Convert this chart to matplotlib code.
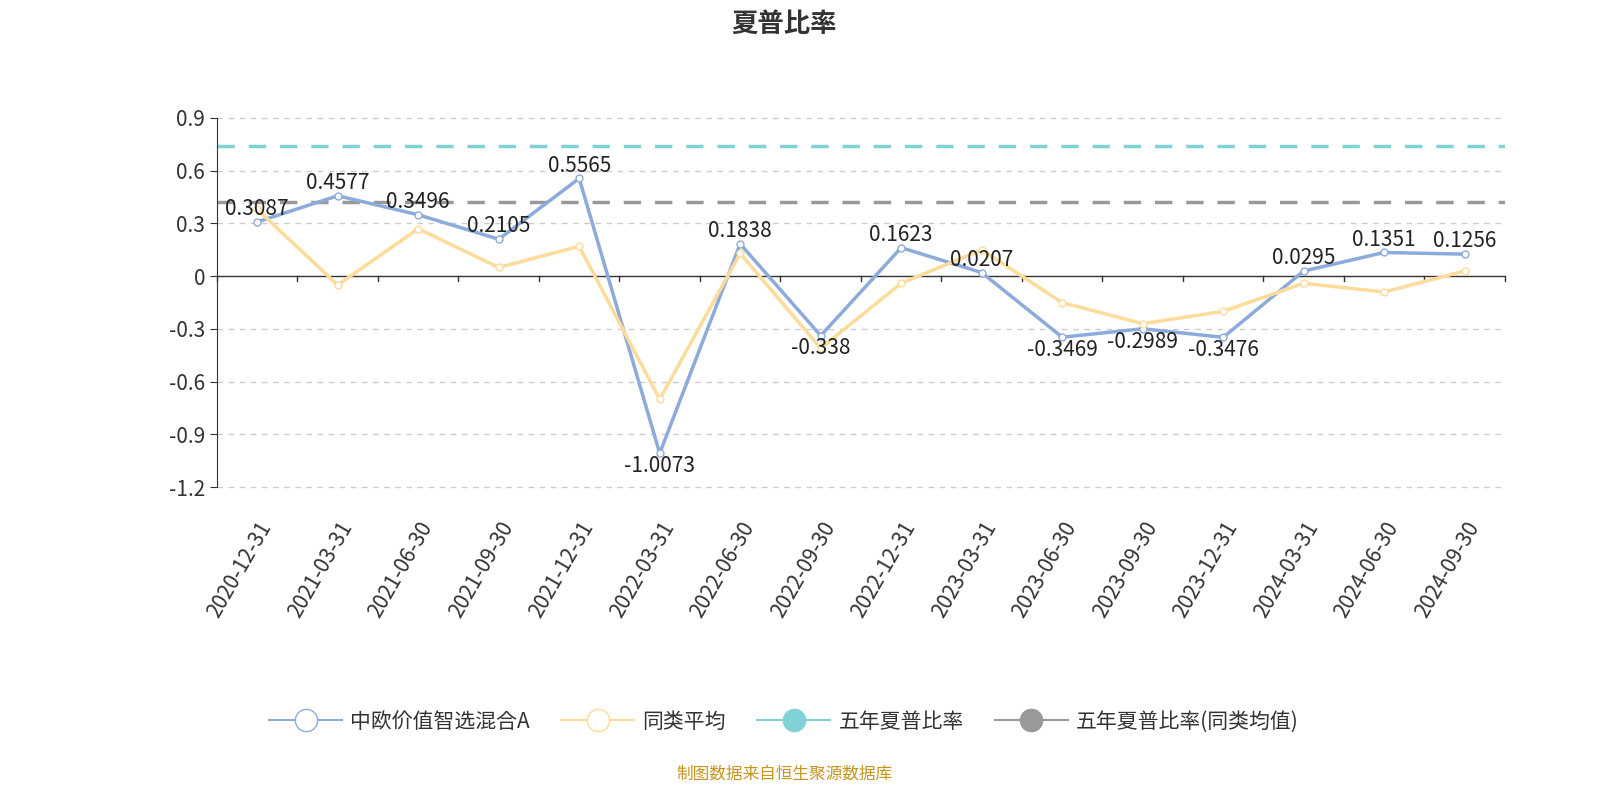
import matplotlib
matplotlib.use("Agg")
import matplotlib.pyplot as plt
from matplotlib.lines import Line2D
from matplotlib import font_manager as fm
import glob

cjk = None
for p in glob.glob("/usr/share/fonts/**/*", recursive=True) + glob.glob("/usr/local/share/fonts/**/*", recursive=True):
    if "CJK" in p and ("SC" in p or "ttc" in p or "otf" in p):
        try:
            fm.fontManager.addfont(p)
            if cjk is None:
                cjk = fm.FontProperties(fname=p).get_name()
        except Exception:
            pass
fams = ["Noto Sans CJK SC", "Noto Sans CJK JP"] + ([cjk] if cjk else []) + ["DejaVu Sans"]
plt.rcParams["font.family"] = fams

dates = ["2020-12-31","2021-03-31","2021-06-30","2021-09-30","2021-12-31","2022-03-31",
         "2022-06-30","2022-09-30","2022-12-31","2023-03-31","2023-06-30","2023-09-30",
         "2023-12-31","2024-03-31","2024-06-30","2024-09-30"]
fund = [0.3087,0.4577,0.3496,0.2105,0.5565,-1.0073,0.1838,-0.338,0.1623,0.0207,
        -0.3469,-0.2989,-0.3476,0.0295,0.1351,0.1256]
peer = [0.38,-0.05,0.27,0.05,0.17,-0.70,0.13,-0.41,-0.04,0.15,-0.15,-0.27,-0.20,-0.04,-0.09,0.03]
five_year = 0.74
five_year_peer = 0.42
yticks = [0.9,0.6,0.3,0,-0.3,-0.6,-0.9,-1.2]

fig = plt.figure(figsize=(16,8), dpi=100)
ax = fig.add_axes([0.1356,0.391,0.805,0.4615])
n = len(dates)
x = list(range(n))
ax.set_xlim(-0.5, n-0.5)
ax.set_ylim(-1.2, 0.9)
for t in yticks:
    if t != 0:
        ax.axhline(t, color="#cccccc", ls=(0,(4,4)), lw=1, zorder=0, clip_on=False)
ax.axhline(0, color="#333333", lw=1, zorder=1)
for b in range(n+1):
    ax.plot([b-0.5,b-0.5],[0,-0.025],color="#333333",lw=1,clip_on=False)
ax.plot([-0.5, n-0.5],[five_year]*2, color="#7fd3d6", lw=2.5, ls=(0,(5,4)))
ax.plot([-0.5, n-0.5],[five_year_peer]*2, color="#999999", lw=2.5, ls=(0,(5,4)))
ax.plot(x, fund, color="#8dabda", lw=2.5, marker="o", ms=5, mfc="white", mec="#8dabda", zorder=3)
ax.plot(x, peer, color="#fddb9a", lw=2.5, marker="o", ms=5, mfc="white", mec="#fddb9a", zorder=4)
for i,v in enumerate(fund):
    ax.text(i, v+0.01 if v>=0 else v-0.01, f"{v:g}", ha="center",
            va="bottom" if v>=0 else "top", fontsize=15, color="#222222", zorder=5)
ax.set_xticks(x)
ax.set_xticklabels(dates, rotation=60, ha="right", rotation_mode="anchor", fontsize=15, color="#333333")
ax.tick_params(axis="x", length=0, pad=22)
ax.set_yticks(yticks)
ax.set_yticklabels([f"{t:g}" for t in yticks], fontsize=15, color="#333333")
ax.tick_params(axis="y", length=5, color="#333333")
for s in ["top","right","bottom"]:
    ax.spines[s].set_visible(False)
ax.spines["left"].set_color("#333333")

fig.text(0.49, 0.97, "夏普比率", ha="center", va="center", fontsize=19, fontweight="bold", color="#333333")
handles = [
    Line2D([],[],color="#8dabda",lw=1.5,marker="o",ms=16,mfc="white",mec="#8dabda"),
    Line2D([],[],color="#fddb9a",lw=1.5,marker="o",ms=16,mfc="white",mec="#fddb9a"),
    Line2D([],[],color="#7fd3d6",lw=1.5,marker="o",ms=16,mfc="#7fd3d6",mec="#7fd3d6"),
    Line2D([],[],color="#999999",lw=1.5,marker="o",ms=16,mfc="#999999",mec="#999999"),
]
fig.legend(handles, ["中欧价值智选混合A","同类平均","五年夏普比率","五年夏普比率(同类均值)"],
           loc="center", bbox_to_anchor=(0.49,0.098), ncol=4, frameon=False, fontsize=15,
           handlelength=3.5, columnspacing=1.5, handletextpad=0.4, labelcolor="#333333")
fig.text(0.49, 0.033, "制图数据来自恒生聚源数据库", ha="center", va="center", fontsize=12, color="#c8941e")
fig.savefig("out.png")
